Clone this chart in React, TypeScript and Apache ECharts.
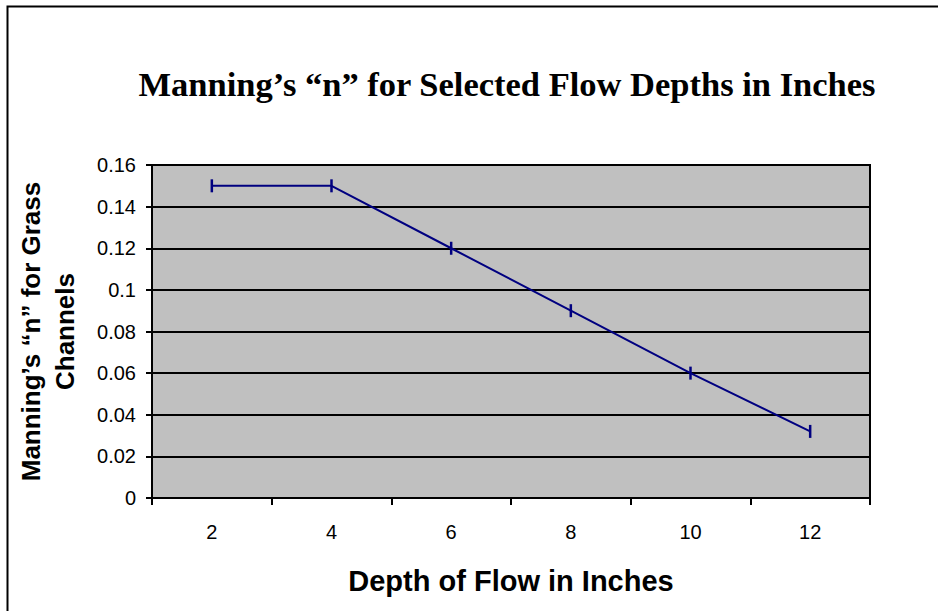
import React, { useEffect, useRef } from "react";
import * as echarts from "echarts";

const categories = ["2", "4", "6", "8", "10", "12"];
const manningN = [0.15, 0.15, 0.12, 0.09, 0.06, 0.032];
const titleText = "Manning\u2019s \u201cn\u201d for Selected Flow Depths in Inches";
const xTitle = "Depth of Flow in Inches";
const yTitle = "Manning\u2019s \u201cn\u201d for Grass\nChannels";

export default function App() {
  const ref = useRef<HTMLDivElement>(null);
  useEffect(() => {
    if (!ref.current) return;
    const chart = echarts.init(ref.current, undefined, { renderer: "svg" });
    chart.setOption({
      animation: false,
      backgroundColor: "#ffffff",
      title: {
        text: titleText,
        left: 507,
        top: 66,
        padding: 0,
        textAlign: "center",
        textStyle: {
          fontFamily: "Liberation Serif",
          fontWeight: "bold",
          fontSize: 34.5,
          color: "#000",
        },
      },
      graphic: [
        {
          type: "rect",
          shape: { x: 7.5, y: 6.5, width: 1000, height: 700 },
          style: { fill: "none", stroke: "#000", lineWidth: 2 },
          silent: true,
        },
      ],
      grid: {
        left: 152,
        top: 165,
        width: 718,
        height: 333,
        show: true,
        backgroundColor: "#C0C0C0",
        borderColor: "#000",
        borderWidth: 2,
      },
      xAxis: {
        type: "category",
        data: categories,
        boundaryGap: true,
        name: xTitle,
        nameLocation: "middle",
        nameGap: 68,
        nameTextStyle: {
          fontFamily: "Liberation Sans",
          fontWeight: "bold",
          fontSize: 29,
          color: "#000",
        },
        axisLine: { show: true, lineStyle: { color: "#000", width: 2 } },
        axisTick: { show: true, alignWithLabel: false, length: 7, lineStyle: { color: "#000", width: 2 } },
        axisLabel: {
          margin: 24,
          fontFamily: "Liberation Sans",
          fontSize: 20,
          color: "#000",
        },
        splitLine: { show: false },
      },
      yAxis: {
        type: "value",
        min: 0,
        max: 0.16,
        interval: 0.02,
        name: yTitle,
        nameLocation: "middle",
        nameRotate: 90,
        nameGap: 70,
        nameTextStyle: {
          fontFamily: "Liberation Sans",
          fontWeight: "bold",
          fontSize: 26,
          lineHeight: 34,
          color: "#000",
          align: "center",
        },
        axisLine: { show: true, lineStyle: { color: "#000", width: 2 } },
        axisTick: { show: true, length: 6, lineStyle: { color: "#000", width: 2 } },
        axisLabel: {
          margin: 16,
          fontFamily: "Liberation Sans",
          fontSize: 20,
          color: "#000",
        },
        splitLine: { show: true, lineStyle: { color: "#000", width: 2 } },
      },
      series: [
        {
          type: "line",
          data: manningN,
          color: "#000080",
          lineStyle: { color: "#000080", width: 2 },
          symbol: "rect",
          symbolSize: [2.5, 13],
          itemStyle: { color: "#000080" },
        },
      ],
    });
    return () => chart.dispose();
  }, []);
  return (
    <div
      ref={ref}
      style={{ position: "fixed", left: 0, top: 0, width: 938, height: 611 }}
    />
  );
}
